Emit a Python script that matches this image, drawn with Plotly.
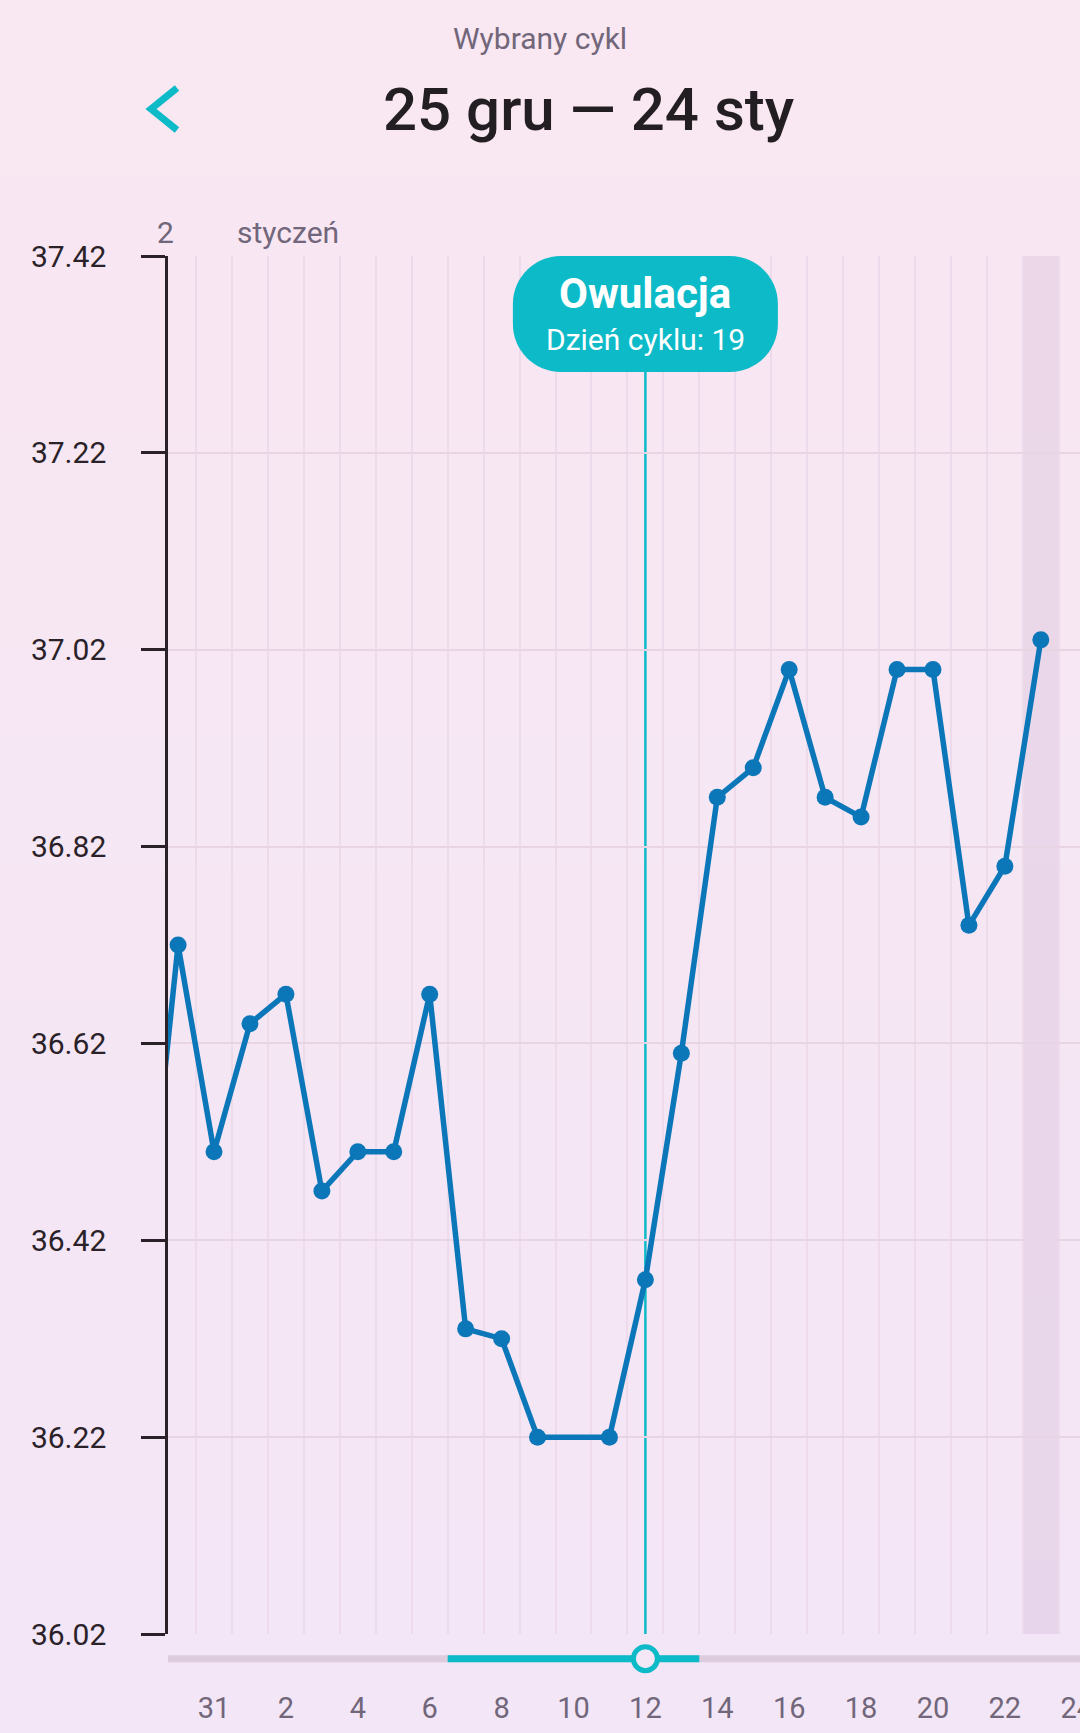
import plotly.graph_objects as go

# cycle day 1 = 25 gru; day 17 (10 sty) has no reading
cycle_days = [5, 6, 7, 8, 9, 10, 11, 12, 13, 14, 15, 16,
              18, 19, 20, 21, 22, 23, 24, 25, 26, 27, 28, 29, 30]
temps = [36.37, 36.72, 36.51, 36.64, 36.67, 36.47, 36.51, 36.51, 36.67, 36.33, 36.32, 36.22,
         36.22, 36.38, 36.61, 36.87, 36.90, 37.00, 36.87, 36.85, 37.00, 37.00, 36.74, 36.80, 37.03]

tick_days = [7, 9, 11, 13, 15, 17, 19, 21, 23, 25, 27, 29, 31]
tick_labels = ["31", "2", "4", "6", "8", "10", "12", "14", "16", "18", "20", "22", "24"]
y_ticks = [36.02, 36.22, 36.42, 36.62, 36.82, 37.02, 37.22, 37.42]

ovulation_day = 19
fertile_days = [14, 20]
marked_day = 30

BLUE = "#0B77B9"
TEAL = "#0DBAC8"
DARK = "#2A2228"
GREY = "#71667A"

W, H = 1080, 1733
L, R, T, B = 168, 0, 256, 53
x_range = [5.72, 31.09]

fig = go.Figure()

fig.add_trace(go.Scatter(
    x=cycle_days, y=temps, mode="lines+markers",
    line=dict(color=BLUE, width=5.5),
    marker=dict(size=17, color=BLUE),
    hoverinfo="skip", showlegend=False,
))

# slider knob
fig.add_trace(go.Scatter(
    x=[ovulation_day], y=[0.5], xaxis="x2", yaxis="y2", mode="markers",
    marker=dict(size=24, color="#F5E8F6", line=dict(color=TEAL, width=5)),
    hoverinfo="skip", showlegend=False, cliponaxis=False,
))

shapes = []

# soft vertical gradient of the page
n = 40
top_c, bot_c = (249, 231, 242), (243, 230, 246)
pw = W - L - R
ph = H - T - B
for i in range(n):
    f = i / (n - 1)
    c = tuple(round(top_c[k] + (bot_c[k] - top_c[k]) * f) for k in range(3))
    y_top = 1 + T / ph - i * (H / ph) / n
    y_bot = y_top - (H / ph) / n - 0.002
    shapes.append(dict(type="rect", xref="paper", yref="paper",
                       x0=-L / pw - 0.01, x1=1.01, y0=y_bot, y1=y_top,
                       fillcolor="rgb(%d,%d,%d)" % c, line=dict(width=0), layer="below"))

# shaded day column
shapes.append(dict(type="rect", xref="x", yref="y domain", x0=marked_day - 0.5, x1=marked_day + 0.5,
                   y0=0, y1=1, fillcolor="rgba(190,160,195,0.22)", line=dict(width=0), layer="below"))

# ovulation line
shapes.append(dict(type="line", xref="x", yref="y domain", x0=ovulation_day, x1=ovulation_day,
                   y0=0, y1=0.95, line=dict(color=TEAL, width=2.5), layer="below"))

# label box (rounded, pixel sized)
x0, x1, y0, y1, r = -132.5, 132.5, -116, 0, 48
k = 0.5523 * r
box = (f"M {x0 + r},{y1} L {x1 - r},{y1} "
       f"C {x1 - r + k},{y1} {x1},{y1 - r + k} {x1},{y1 - r} "
       f"L {x1},{y0 + r} C {x1},{y0 + r - k} {x1 - r + k},{y0} {x1 - r},{y0} "
       f"L {x0 + r},{y0} C {x0 + r - k},{y0} {x0},{y0 + r - k} {x0},{y0 + r} "
       f"L {x0},{y1 - r} C {x0},{y1 - r + k} {x0 + r - k},{y1} {x0 + r},{y1} Z")
shapes.append(dict(type="path", xref="x", yref="y", xsizemode="pixel", ysizemode="pixel",
                   xanchor=ovulation_day, yanchor=y_ticks[-1], path=box,
                   fillcolor=TEAL, line=dict(width=0), layer="above"))

# slider track + fertile window
shapes.append(dict(type="line", xref="x2 domain", yref="y2", x0=0, x1=1, y0=0.5, y1=0.5,
                   line=dict(color="#DDCCDE", width=7), layer="below"))
shapes.append(dict(type="line", xref="x2", yref="y2", x0=fertile_days[0] - 0.5, x1=fertile_days[1] + 0.5,
                   y0=0.5, y1=0.5, line=dict(color=TEAL, width=7), layer="below"))

# back chevron
shapes.append(dict(type="path", xref="paper", yref="paper", xsizemode="pixel", ysizemode="pixel",
                   xanchor=0, yanchor=1, path="M 9,168 L -17,147 L 9,126",
                   line=dict(color=TEAL, width=7)))

annotations = [
    dict(text="Wybrany cykl", xref="paper", yref="paper", x=(540 - L) / pw, y=1 + (T - 38) / ph,
         showarrow=False, font=dict(size=30, color=GREY), xanchor="center", yanchor="middle"),
    dict(text="25 gru — 24 sty", xref="paper", yref="paper", x=(588 - L) / pw, y=1 + (T - 109) / ph,
         showarrow=False, font=dict(size=60, color="#231E22", weight=500), xanchor="center", yanchor="middle"),
    dict(text="styczeń", xref="x", yref="y domain", x=7.5, y=1, xshift=3, yshift=24,
         showarrow=False, font=dict(size=30, color=GREY), xanchor="left", yanchor="middle"),
    dict(text="2", xref="paper", yref="y domain", x=0, y=1, xshift=8, yshift=24,
         showarrow=False, font=dict(size=30, color=GREY), xanchor="right", yanchor="middle"),
    dict(text="Owulacja", xref="x", yref="y", x=ovulation_day, y=y_ticks[-1], yshift=-37,
         showarrow=False, font=dict(size=42, color="white", weight=700), xanchor="center", yanchor="middle"),
    dict(text="Dzień cyklu: %d" % ovulation_day, xref="x", yref="y", x=ovulation_day, y=y_ticks[-1], yshift=-83,
         showarrow=False, font=dict(size=30, color="white"), xanchor="center", yanchor="middle"),
]

main_bottom = (H - B - 1634) / ph

fig.update_layout(
    width=W, height=H,
    margin=dict(l=L, r=R, t=T, b=B, pad=0, autoexpand=False),
    paper_bgcolor="#F6E6F4",
    plot_bgcolor="rgba(0,0,0,0)",
    font=dict(family="Roboto", color=DARK),
    showlegend=False,
    shapes=shapes,
    annotations=annotations,
    xaxis=dict(range=x_range, anchor="y", showticklabels=False, showgrid=False, zeroline=False,
               showline=False, ticks="", automargin=False,
               minor=dict(tick0=0.5, dtick=1, showgrid=True, gridcolor="#EDDBEC", gridwidth=2)),
    yaxis=dict(domain=[main_bottom, 1], range=[y_ticks[0], y_ticks[-1]], tickvals=y_ticks,
               ticktext=["%.2f" % v for v in y_ticks], showgrid=True, gridcolor="#E9D4E4", gridwidth=2,
               zeroline=False, showline=True, linecolor=DARK, linewidth=2.5,
               ticks="outside", ticklen=24, tickwidth=2.5, tickcolor=DARK, automargin=False,
               ticklabelstandoff=29, tickfont=dict(size=30, color=DARK)),
    xaxis2=dict(matches="x", anchor="y2", tickvals=tick_days, ticktext=tick_labels,
                showgrid=False, zeroline=False, showline=False, automargin=False,
                ticks="outside", ticklen=2, tickcolor="rgba(0,0,0,0)",
                ticklabeloverflow="allow",
                tickfont=dict(size=29, color=GREY)),
    yaxis2=dict(domain=[0, 0.03], range=[0, 1], visible=False, fixedrange=True),
)

# the page has a default 8px body margin; drop it so the figure fills the window
fig.write_html("out.html", config={"displayModeBar": False},
               post_script="document.body.style.margin='0';")
